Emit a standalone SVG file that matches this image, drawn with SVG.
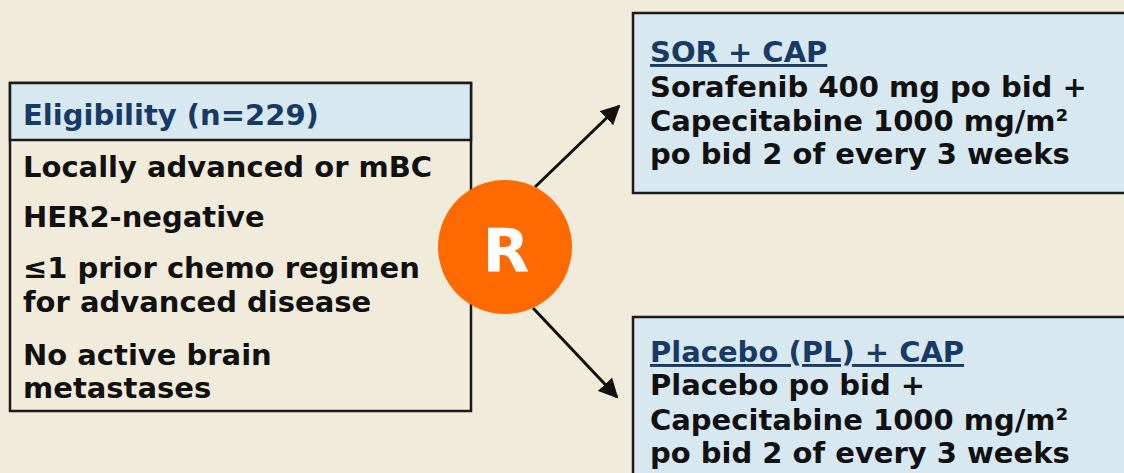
<svg xmlns="http://www.w3.org/2000/svg" width="1124" height="473" viewBox="0 0 1124 473">
<style>
.t{font-family:"DejaVu Sans",Verdana,sans-serif;font-weight:bold;font-size:29px;fill:#111}
.h{fill:#173a66}
.box{stroke:#1a1a1a;stroke-width:2.5}
</style>
<defs>
<marker id="ah" viewBox="0 0 10 10" refX="9" refY="5" markerWidth="6.5" markerHeight="6.5" markerUnits="strokeWidth" orient="auto">
<path d="M0,0 L10,5 L0,10 z" fill="#111"/>
</marker>
</defs>
<rect width="1124" height="473" fill="#f1ebdb"/>
<g id="eligibility">
<rect class="box" x="10" y="83" width="461" height="328" fill="#f1ebdb"/>
<rect class="box" x="10" y="83" width="461" height="57" fill="#d7e8f0"/>
<text class="t h" x="23" y="125">Eligibility (n=229)</text>
<text class="t" x="23" y="177">Locally advanced or mBC</text>
<text class="t" x="23" y="227">HER2-negative</text>
<text class="t" x="23" y="278">≤1 prior chemo regimen</text>
<text class="t" x="23" y="312">for advanced disease</text>
<text class="t" x="23" y="365">No active brain</text>
<text class="t" x="23" y="398">metastases</text>
</g>
<g id="connectors" stroke="#111" stroke-width="3" fill="none">
<line x1="535" y1="187" x2="619" y2="106" marker-end="url(#ah)"/>
<line x1="533" y1="308" x2="617" y2="397" marker-end="url(#ah)"/>
</g>
<g id="randomize">
<circle cx="505" cy="247" r="67" fill="#ff6a00"/>
<text x="506" y="272" text-anchor="middle" style="font-family:'DejaVu Sans',Verdana,sans-serif;font-weight:bold;font-size:61px;fill:#fff">R</text>
</g>
<g id="sor-cap">
<rect class="box" x="633" y="13" width="500" height="180" fill="#d7e8f0"/>
<text class="t h" x="650" y="62" text-decoration="underline">SOR + CAP</text>
<text class="t" x="650" y="97">Sorafenib 400 mg po bid +</text>
<text class="t" x="650" y="131">Capecitabine 1000 mg/m²</text>
<text class="t" x="650" y="164">po bid 2 of every 3 weeks</text>
</g>
<g id="pl-cap">
<rect class="box" x="633" y="317" width="500" height="180" fill="#d7e8f0"/>
<text class="t h" x="650" y="362" text-decoration="underline">Placebo (PL) + CAP</text>
<text class="t" x="650" y="395">Placebo po bid +</text>
<text class="t" x="650" y="430">Capecitabine 1000 mg/m²</text>
<text class="t" x="650" y="463">po bid 2 of every 3 weeks</text>
</g>
</svg>
